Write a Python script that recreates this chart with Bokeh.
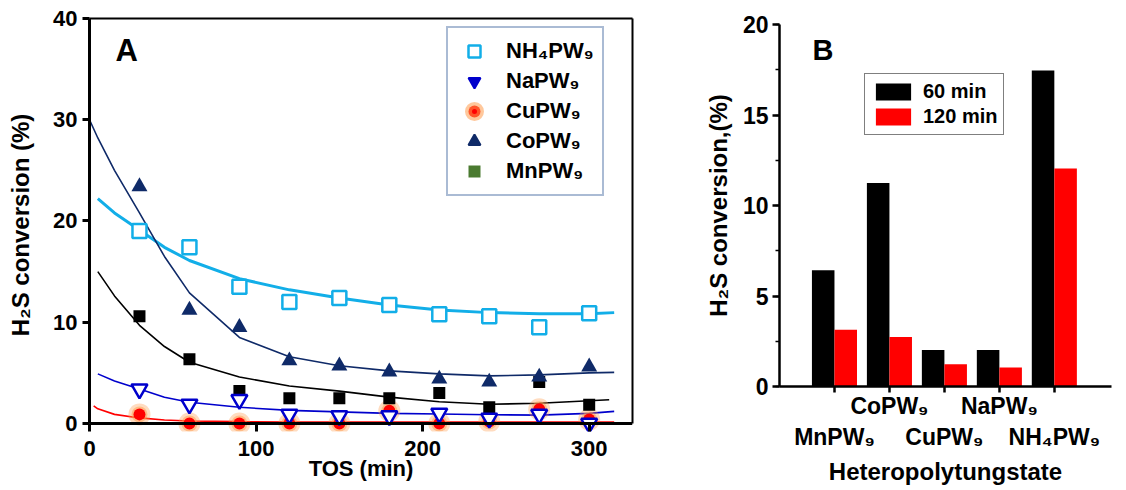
import numpy as np
from bokeh.plotting import figure
from bokeh.models import (Range1d, FixedTicker, SingleIntervalTicker, Legend, LegendItem,
                          Label, LinearAxis, ColumnDataSource, Span)
from bokeh.layouts import row, column
from bokeh.embed import file_html
from bokeh.resources import INLINE

# ---------------- data: panel A ----------------
tos = [30, 60, 90, 120, 150, 180, 210, 240, 270, 300]
nh4_pw9 = [19.0, 17.4, 13.5, 12.0, 12.4, 11.7, 10.8, 10.6, 9.5, 10.9]
na_pw9 = [3.4, 1.9, 2.35, 0.9, 0.75, 0.75, 1.0, 0.5, 0.9, 0.0]
cu_pw9 = [0.9, 0.0, 0.0, 0.0, 0.0, 1.25, 0.0, 0.2, 1.4, 0.4]
co_pw9 = [23.4, 11.2, 9.5, 6.2, 5.7, 5.1, 4.4, 4.1, 4.6, 5.6]
mn_pw9 = [10.6, 6.35, 3.2, 2.5, 2.5, 2.5, 3.0, 1.6, 4.1, 1.85]

# fitted trend curves
fit_x = [5, 15, 30, 45, 60, 90, 120, 150, 180, 210, 240, 270, 300, 315]
nh4_fit = [22.2, 20.8, 19.1, 17.4, 16.1, 14.3, 13.2, 12.4, 11.7, 11.2, 10.95, 10.85, 10.85, 10.95]
co_fit_x = [0, 5, 15, 30, 45, 60, 90, 120, 150, 180, 210, 240, 270, 300, 315]
co_fit = [30.0, 28.2, 25.0, 20.8, 16.5, 12.9, 8.5, 6.6, 5.7, 5.2, 4.9, 4.7, 4.8, 5.0, 5.05]
mn_fit_x = [5, 15, 30, 45, 60, 90, 120, 150, 180, 210, 240, 270, 300, 312]
mn_fit = [15.0, 12.6, 9.7, 7.6, 6.05, 4.6, 3.7, 3.2, 2.6, 2.15, 1.9, 2.0, 2.25, 2.35]
na_fit = [4.9, 4.2, 3.4, 2.6, 2.1, 1.6, 1.3, 1.15, 1.0, 0.93, 0.86, 0.83, 1.0, 1.2]
cu_fit_x = [2.5, 5, 15, 30, 45, 60, 90, 120, 150, 180, 210, 240, 270, 300, 315]
cu_fit = [1.75, 1.45, 0.9, 0.55, 0.35, 0.25, 0.18, 0.15, 0.15, 0.15, 0.15, 0.15, 0.15, 0.15, 0.15]

x_ticks_a = [0, 100, 200, 300]
y_ticks_a = [0, 10, 20, 30, 40]
X_MAX_A, Y_MAX_A = 326, 40

# ---------------- data: panel B ----------------
catalysts = ["MnPW₉", "CoPW₉", "CuPW₉", "NaPW₉", "NH₄PW₉"]
conv_60 = [6.42, 11.24, 2.02, 2.02, 17.46]
conv_120 = [3.13, 2.74, 1.23, 1.05, 12.05]
series_b = ["60 min", "120 min"]
Y_MAX_B = 20

FONT = "Liberation Sans"
CYAN = "#12aee8"
NAVY = "#0f2a68"
BLUE = "#0000cc"
RED = "#ff0000"
GLOW = "#ff9a4a"


def style_axis(ax, lw=3, size="22px", lab="23px"):
    ax.axis_line_width = lw
    ax.major_tick_line_width = lw
    ax.major_tick_out = 7
    ax.major_tick_in = 0
    ax.minor_tick_out = 0
    ax.minor_tick_in = 0
    ax.major_label_text_font = FONT
    ax.major_label_text_font_style = "bold"
    ax.major_label_text_font_size = size
    ax.major_label_text_color = "black"
    ax.axis_label_text_font = FONT
    ax.axis_label_text_font_style = "bold"
    ax.axis_label_text_font_size = lab
    ax.axis_label_text_color = "black"


def border_axis(**kw):
    # plain frame edge: a line only, no ticks, no labels
    return LinearAxis(ticker=FixedTicker(ticks=[]), axis_line_color="black", axis_line_width=2,
                      major_tick_line_color=None, minor_tick_line_color=None,
                      major_tick_out=0, major_tick_in=0, minor_tick_out=0, minor_tick_in=0,
                      major_label_standoff=0, **kw)


# ================= Panel A =================
PXU_X = 543 / X_MAX_A          # pixels per minute
PXU_Y = 404.5 / Y_MAX_A        # pixels per % conversion
TICK_A = 8                     # px the frame reaches below zero (= x tick length)
ya_lo = -TICK_A / PXU_Y

p1 = figure(output_backend="svg", toolbar_location=None,
            frame_width=543, frame_height=int(round((Y_MAX_A - ya_lo) * PXU_Y)),
            x_range=Range1d(0, X_MAX_A), y_range=Range1d(ya_lo, Y_MAX_A),
            min_border_left=89, min_border_right=19, min_border_top=18, min_border_bottom=10)
p1.grid.visible = False
p1.outline_line_color = None
p1.background_fill_color = "white"
p1.border_fill_color = "white"

style_axis(p1.yaxis[0], lab="24px")
p1.yaxis.ticker = FixedTicker(ticks=y_ticks_a)
p1.yaxis.bounds = (0, Y_MAX_A)
p1.yaxis.axis_label = "H₂S conversion (%)"
p1.yaxis.major_label_standoff = 5
p1.yaxis.axis_label_standoff = 16

xax = p1.xaxis[0]
style_axis(xax, lab="22px")
xax.ticker = FixedTicker(ticks=x_ticks_a)
xax.axis_label = "TOS (min)"
xax.axis_line_color = None
xax.major_tick_in = TICK_A
xax.major_tick_out = 0
xax.major_label_standoff = 9
xax.axis_label_standoff = -3

# x axis line at zero; top and right frame edges
p1.add_layout(Span(location=0, dimension="width", line_color="black", line_width=3))
p1.add_layout(border_axis(), "above")
p1.add_layout(border_axis(bounds=(0, Y_MAX_A)), "right")

# fit curves
p1.line(fit_x, nh4_fit, line_color=CYAN, line_width=3)
p1.line(co_fit_x, co_fit, line_color=NAVY, line_width=1.6)
p1.line(mn_fit_x, mn_fit, line_color="black", line_width=1.6)
p1.line(fit_x, na_fit, line_color=BLUE, line_width=1.6)
p1.line(cu_fit_x, cu_fit, line_color=RED, line_width=1.6)

# data points
cu_src = ColumnDataSource(dict(x=tos, y=cu_pw9))
p1.scatter("x", "y", source=cu_src, marker="circle", size=22, fill_color=GLOW, fill_alpha=0.35, line_color=None)
p1.scatter("x", "y", source=cu_src, marker="circle", size=16, fill_color=GLOW, fill_alpha=0.5, line_color=None)
p1.scatter("x", "y", source=cu_src, marker="circle", size=12, fill_color=RED, line_color=None)
p1.scatter(tos, mn_pw9, marker="square", size=12, fill_color="black", line_color=None)
p1.scatter(tos, co_pw9, marker="triangle", size=16, fill_color=NAVY, line_color=None)
p1.scatter(tos, na_pw9, marker="inverted_triangle", size=16, fill_color="white",
           line_color=BLUE, line_width=2.5)
p1.scatter(tos, nh4_pw9, marker="square", size=14, fill_color="white",
           line_color=CYAN, line_width=2.5)

# legend-only glyphs (legend styling differs from plotted points): mapped to an
# off-screen extra range so nothing shows inside the plot area
p1.extra_x_ranges = {"legend_only": Range1d(-1000, -900)}


def legend_glyph(ys, **kw):
    src = ColumnDataSource(dict(x=tos, y=ys))
    return p1.scatter("x", "y", source=src, x_range_name="legend_only", **kw)


lg_nh4 = legend_glyph(nh4_pw9, marker="square", fill_color="white", line_color=CYAN, line_width=2.5)
lg_na = legend_glyph(na_pw9, marker="inverted_triangle", fill_color=BLUE, line_color=BLUE, line_width=2)
lg_cu = legend_glyph(cu_pw9, marker="circle", fill_color=RED, line_color=GLOW, line_alpha=0.55,
                     line_width=7)
lg_co = legend_glyph(co_pw9, marker="triangle", fill_color=NAVY, line_color=NAVY, line_width=2)
lg_mn = legend_glyph(mn_pw9, marker="square", fill_color="#4a7a30", line_color=None)

leg1 = Legend(items=[LegendItem(label="NH₄PW₉", renderers=[lg_nh4]),
                     LegendItem(label="NaPW₉", renderers=[lg_na]),
                     LegendItem(label="CuPW₉", renderers=[lg_cu]),
                     LegendItem(label="CoPW₉", renderers=[lg_co]),
                     LegendItem(label="MnPW₉", renderers=[lg_mn])],
              location=(357, 235), padding=8, spacing=0, margin=0,
              glyph_width=36, glyph_height=30, label_height=30, label_standoff=14,
              label_text_font=FONT, label_text_font_style="bold", label_text_font_size="22px",
              label_text_color="black",
              border_line_color="#5577aa", border_line_width=2, background_fill_color="white",
              background_fill_alpha=1.0)
p1.add_layout(leg1, "center")

p1.add_layout(Label(x=26, y=381, x_units="screen", y_units="screen", text="A",
                    text_font=FONT, text_font_style="bold", text_font_size="31px",
                    text_color="black", text_baseline="alphabetic"))

# ================= Panel B =================
xpos = np.arange(1, len(catalysts) + 1)
bar_w = 0.41
xb_hi = len(catalysts) + 1.04

p2 = figure(output_backend="svg", toolbar_location=None,
            frame_width=332, frame_height=362,
            x_range=Range1d(0, xb_hi), y_range=Range1d(0, Y_MAX_B),
            min_border_left=128, min_border_right=10, min_border_top=24, min_border_bottom=10)
p2.grid.visible = False
p2.outline_line_color = None
p2.background_fill_color = "white"
p2.border_fill_color = "white"

src = ColumnDataSource(dict(x60=xpos - bar_w / 2, x120=xpos + bar_w / 2,
                            v60=conv_60, v120=conv_120))
r60 = p2.vbar(x="x60", top="v60", width=bar_w, bottom=0, source=src,
              fill_color="black", line_color=None)
r120 = p2.vbar(x="x120", top="v120", width=bar_w, bottom=0, source=src,
               fill_color=RED, line_color=None)

ya = p2.yaxis[0]
style_axis(ya, lw=2.5, size="23px", lab="24px")
ya.ticker = SingleIntervalTicker(interval=5, num_minor_ticks=2)
ya.bounds = (0, Y_MAX_B)
ya.minor_tick_out = 4
ya.minor_tick_line_width = 1.5
ya.axis_label = "H₂S conversion,(%)"
ya.major_label_standoff = 4
ya.axis_label_standoff = 8

tick_pos = [int(v) for v in xpos]
xa = p2.xaxis[0]
style_axis(xa, lw=2.5, size="23px", lab="24px")
xa.ticker = FixedTicker(ticks=tick_pos)
xa.major_label_overrides = {t: (c if i % 2 == 1 else "")
                            for i, (t, c) in enumerate(zip(tick_pos, catalysts))}
xa.major_tick_out = 6
xa.major_label_standoff = 0

xa2 = LinearAxis(ticker=FixedTicker(ticks=tick_pos),
                 major_label_overrides={t: (c if i % 2 == 0 else "")
                                        for i, (t, c) in enumerate(zip(tick_pos, catalysts))},
                 axis_label="Heteropolytungstate")
style_axis(xa2, lw=2.5, size="23px", lab="24px")
xa2.axis_line_color = None
xa2.major_tick_line_color = None
xa2.major_tick_out = 0
xa2.major_label_standoff = 2
xa2.axis_label_standoff = 5
p2.add_layout(xa2, "below")

leg2 = Legend(items=[LegendItem(label=series_b[0], renderers=[r60]),
                     LegendItem(label=series_b[1], renderers=[r120])],
              location=(85, 251), padding=6, spacing=2, margin=0,
              glyph_width=44, glyph_height=21, label_height=21, label_standoff=8,
              label_text_font=FONT, label_text_font_style="bold", label_text_font_size="20px",
              label_text_color="black",
              border_line_color="black", border_line_width=1.5, background_fill_color="white",
              background_fill_alpha=1.0)
p2.add_layout(leg2, "center")

p2.add_layout(Label(x=33, y=337, x_units="screen", y_units="screen", text="B",
                    text_font=FONT, text_font_style="bold", text_font_size="29px",
                    text_color="black", text_baseline="alphabetic"))

layout = row(column(p1), column(p2))
open("out.html", "w").write(file_html(layout, INLINE))
